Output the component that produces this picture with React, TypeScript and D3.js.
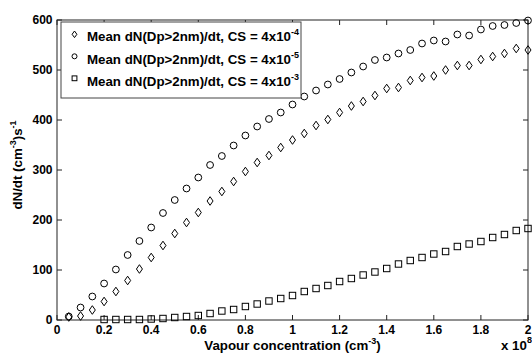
import { useEffect, useRef } from "react"
import * as d3 from "d3"

// x values are in units of 1e8 cm^-3
const xCS4 = [0.05, 0.1, 0.15, 0.2, 0.25, 0.3, 0.35, 0.4, 0.45, 0.5, 0.55, 0.6, 0.65, 0.7, 0.75, 0.8, 0.85, 0.9, 0.95, 1.0,
  1.05, 1.1, 1.15, 1.2, 1.25, 1.3, 1.35, 1.4, 1.45, 1.5, 1.55, 1.6, 1.65, 1.7, 1.75, 1.8, 1.85, 1.9, 1.95, 2.0]
// CS = 4x10^-4 (diamonds)
const yCS4 = [6, 8, 20, 37, 57, 79, 102, 125, 149, 173, 195, 215, 238, 257, 277, 297, 315, 329, 345, 360,
  373, 389, 401, 415, 428, 437, 449, 463, 465, 479, 485, 488, 500, 509, 509, 521, 527, 533, 543, 540]
// CS = 4x10^-5 (circles)
const yCS5 = [7, 25, 47, 73, 101, 130, 158, 185, 214, 240, 263, 285, 310, 328, 349, 369, 387, 402, 415, 431,
  447, 459, 471, 482, 495, 507, 520, 525, 533, 540, 553, 559, 557, 571, 569, 581, 588, 590, 594, 599]
// CS = 4x10^-3 (squares), starts at 0.2
const xCS3 = xCS4.slice(3)
const yCS3 = [1, 1, 1, 1, 2, 3, 5, 7, 9, 13, 18, 21, 27, 32, 38, 43, 49,
  57, 63, 69, 77, 83, 90, 96, 103, 112, 119, 125, 132, 137, 147, 152, 157, 165, 171, 179, 183]

const xTicks = [0, 0.2, 0.4, 0.6, 0.8, 1, 1.2, 1.4, 1.6, 1.8, 2]
const yTicks = [0, 100, 200, 300, 400, 500, 600]
const legendLabels = ["4x10", "4x10", "4x10"]
const legendExps = ["-4", "-5", "-3"]

const App = () => {
  const svgRef = useRef<SVGSVGElement>(null)

  useEffect(() => {
    document.body.style.margin = "0"
    const svg = d3.select(svgRef.current)
    svg.selectAll("*").remove()

    const W = 532
    const H = 356
    const margin = { top: 20, right: 4, bottom: 36, left: 57 }
    const width = W - margin.left - margin.right
    const height = H - margin.top - margin.bottom
    const font = "'Liberation Sans', Arial, Helvetica, sans-serif"
    const tickFs = "12px"
    const labFs = "13.3px"
    const supFs = "9px"

    svg.attr("width", W).attr("height", H).style("background", "#fff").style("display", "block")

    const g = svg.append("g").attr("transform", `translate(${margin.left},${margin.top})`)

    const x = d3.scaleLinear().domain([0, 2]).range([0, width])
    const y = d3.scaleLinear().domain([0, 600]).range([height, 0])

    const tickLen = 5

    // frame
    g.append("rect")
      .attr("x", 0)
      .attr("y", 0)
      .attr("width", width)
      .attr("height", height)
      .attr("fill", "none")
      .attr("stroke", "#222")
      .attr("stroke-width", 1)

    // ticks (inward, all four sides)
    xTicks.forEach((t) => {
      g.append("line").attr("x1", x(t)).attr("x2", x(t)).attr("y1", height).attr("y2", height - tickLen).attr("stroke", "#222")
      g.append("line").attr("x1", x(t)).attr("x2", x(t)).attr("y1", 0).attr("y2", tickLen).attr("stroke", "#222")
      g.append("text")
        .attr("x", x(t))
        .attr("y", height + 13.5)
        .attr("text-anchor", "middle")
        .style("font-family", font)
        .style("font-weight", "bold")
        .style("font-size", tickFs)
        .text(String(t))
    })
    yTicks.forEach((t) => {
      g.append("line").attr("x1", 0).attr("x2", tickLen).attr("y1", y(t)).attr("y2", y(t)).attr("stroke", "#222")
      g.append("line").attr("x1", width).attr("x2", width - tickLen).attr("y1", y(t)).attr("y2", y(t)).attr("stroke", "#222")
      g.append("text")
        .attr("x", -4.5)
        .attr("y", y(t))
        .attr("dy", "0.36em")
        .attr("text-anchor", "end")
        .style("font-family", font)
        .style("font-weight", "bold")
        .style("font-size", tickFs)
        .text(String(t))
    })

    // markers
    const diamond = (cx: number, cy: number, a = 3, b = 4.3) => `M${cx},${cy - b}L${cx + a},${cy}L${cx},${cy + b}L${cx - a},${cy}Z`

    g.selectAll(".dia")
      .data(xCS4.map((v, i) => [v, yCS4[i]]))
      .enter()
      .append("path")
      .attr("d", (d) => diamond(x(d[0]), y(d[1])))
      .attr("fill", "none")
      .attr("stroke", "#000")
      .attr("stroke-width", 1)

    g.selectAll(".circ")
      .data(xCS4.map((v, i) => [v, yCS5[i]]))
      .enter()
      .append("circle")
      .attr("cx", (d) => x(d[0]))
      .attr("cy", (d) => y(d[1]))
      .attr("r", 3.4)
      .attr("fill", "none")
      .attr("stroke", "#000")
      .attr("stroke-width", 1)

    g.selectAll(".sq")
      .data(xCS3.map((v, i) => [v, yCS3[i]]))
      .enter()
      .append("rect")
      .attr("x", (d) => x(d[0]) - 3.2)
      .attr("y", (d) => y(d[1]) - 3.2)
      .attr("width", 6.4)
      .attr("height", 6.4)
      .attr("fill", "none")
      .attr("stroke", "#000")
      .attr("stroke-width", 1)

    // legend
    const lg = g.append("g").attr("transform", "translate(4,2)")
    lg.append("rect")
      .attr("x", 0)
      .attr("y", 0)
      .attr("width", 240)
      .attr("height", 76)
      .attr("fill", "#fff")
      .attr("stroke", "#444")
      .attr("stroke-width", 1)

    legendLabels.forEach((lab, i) => {
      const my = 12.3 + i * 22
      const ty = 19 + i * 22.5
      const mx = 13.5
      if (i === 0) {
        lg.append("path").attr("d", diamond(mx, my, 2.4, 3.3)).attr("fill", "none").attr("stroke", "#000")
      } else if (i === 1) {
        lg.append("circle").attr("cx", mx).attr("cy", my).attr("r", 2.5).attr("fill", "none").attr("stroke", "#000")
      } else {
        lg.append("rect").attr("x", mx - 2.4).attr("y", my - 2.4).attr("width", 4.8).attr("height", 4.8).attr("fill", "none").attr("stroke", "#000")
      }
      const t = lg.append("text")
        .attr("x", 26)
        .attr("y", ty)
        .style("font-family", font)
        .style("font-weight", "bold")
        .style("font-size", labFs)
      t.append("tspan").text(`Mean dN(Dp>2nm)/dt, CS = ${lab}`)
      t.append("tspan").attr("dy", -6).style("font-size", supFs).text(legendExps[i])
    })

    // x axis label
    const xl = svg.append("text")
      .attr("x", margin.left + width / 2)
      .attr("y", 350)
      .attr("text-anchor", "middle")
      .style("font-family", font)
      .style("font-weight", "bold")
      .style("font-size", labFs)
    xl.append("tspan").text("Vapour concentration (cm")
    xl.append("tspan").attr("dy", -6).style("font-size", supFs).text("-3")
    xl.append("tspan").attr("dy", 6).text(")")

    const ex = svg.append("text")
      .attr("x", 501)
      .attr("y", 350)
      .style("font-family", font)
      .style("font-weight", "bold")
      .style("font-size", labFs)
    ex.append("tspan").text("x 10")
    ex.append("tspan").attr("dy", -7).style("font-size", supFs).text("8")

    // y axis label
    const yl = svg.append("text")
      .attr("transform", `translate(22,${165}) rotate(-90)`)
      .attr("text-anchor", "middle")
      .style("font-family", font)
      .style("font-weight", "bold")
      .style("font-size", labFs)
    yl.append("tspan").text("dN/dt (cm")
    yl.append("tspan").attr("dy", -6).style("font-size", supFs).text("-3")
    yl.append("tspan").attr("dy", 6).text(")s")
    yl.append("tspan").attr("dy", -6).style("font-size", supFs).text("-1")
  }, [])

  return <svg ref={svgRef}></svg>
}

export default App
